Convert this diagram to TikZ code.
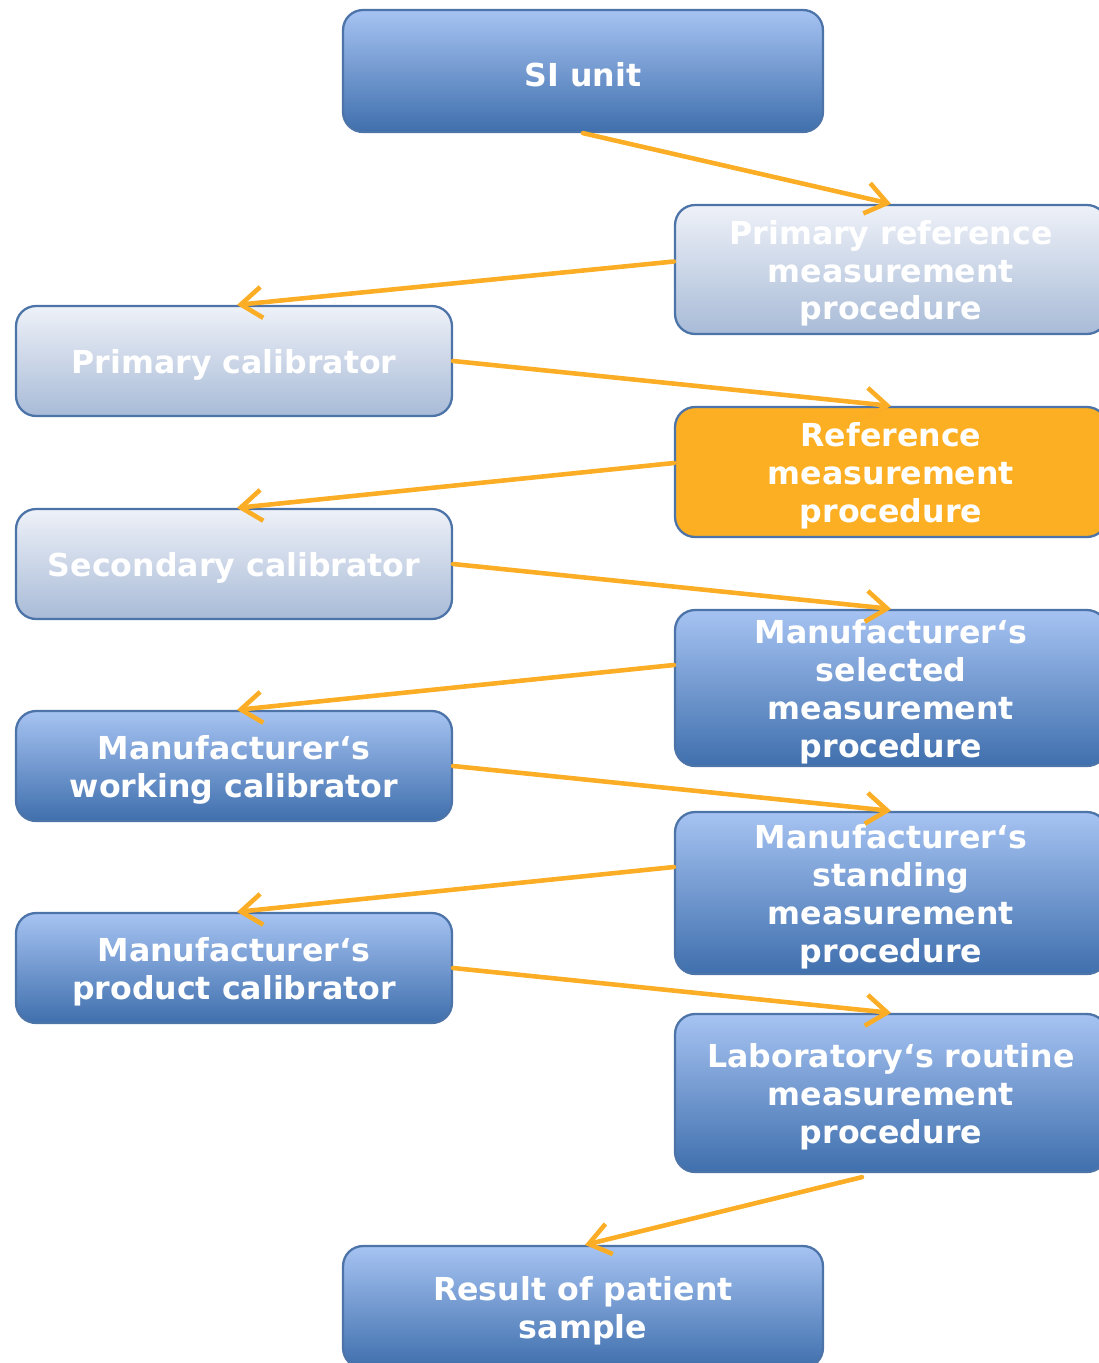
\documentclass[tikz,border=0pt]{standalone}
\usepackage{fontspec}
\setmainfont{DejaVu Sans}
\usetikzlibrary{arrows.meta,calc}
\definecolor{bluetop}{HTML}{A6C3F2}
\definecolor{bluebot}{HTML}{3F6FAD}
\definecolor{lighttop}{HTML}{EEF1F8}
\definecolor{lightbot}{HTML}{A8BBD7}
\definecolor{edgeblue}{HTML}{4C74A8}
\definecolor{orangefill}{HTML}{FDAF23}
\definecolor{arrowor}{HTML}{FAAD25}
\newcommand{\topstrut}{\rule{0pt}{18pt}}
\tikzset{
  boxbase/.style={draw=edgeblue, line width=1.3pt, rounded corners=0.4cm, align=center,
    inner sep=0pt, text=white, font=\fontsize{18}{21.6}\selectfont\bfseries},
  bluebox/.style={boxbase, top color=bluetop, bottom color=bluebot},
  lightbox/.style={boxbase, top color=lighttop, bottom color=lightbot},
  orangebox/.style={boxbase, fill=orangefill},
  rightw/.style={minimum width=8.64cm},
  leftw/.style={minimum width=8.72cm, minimum height=2.2cm},
  conn/.style={draw=arrowor, line width=2.6pt, line cap=round,
    -{Straight Barb[length=0.42cm, width=0.62cm, line width=2.6pt]}}
}
\begin{document}
\begin{tikzpicture}[x=0.02cm, y=-0.02cm]
\useasboundingbox (0,0) rectangle (1099,1363);
\node[bluebox, minimum width=9.6cm, minimum height=2.44cm] (si) at (583,71) {\topstrut SI unit};
\node[lightbox, rightw, minimum height=2.58cm] (pref) at (891,269.5) {\topstrut Primary reference\\measurement\\procedure};
\node[orangebox, rightw, minimum height=2.6cm] (ref) at (891,472) {\topstrut Reference\\measurement\\procedure};
\node[bluebox, rightw, minimum height=3.12cm] (sel) at (891,688) {\topstrut Manufacturer‘s\\selected\\measurement\\procedure};
\node[bluebox, rightw, minimum height=3.24cm] (stand) at (891,893) {\topstrut Manufacturer‘s\\standing\\measurement\\procedure};
\node[bluebox, rightw, minimum height=3.16cm] (lab) at (891,1093) {\topstrut Laboratory‘s routine\\measurement\\procedure};
\node[lightbox, leftw] (pcal) at (234,361) {\topstrut Primary calibrator};
\node[lightbox, leftw] (scal) at (234,564) {\topstrut Secondary calibrator};
\node[bluebox, leftw] (wcal) at (234,766) {\topstrut Manufacturer‘s\\working calibrator};
\node[bluebox, leftw] (prod) at (234,968) {\topstrut Manufacturer‘s\\product calibrator};
\node[bluebox, minimum width=9.6cm, minimum height=2.44cm] (res) at (583,1307) {\topstrut Result of patient\\sample};

\draw[conn] (si.south) -- (pref.north);
\draw[conn] ($(pref.west)+(0,-8)$) -- ($(pcal.north)+(3,0)$);
\draw[conn] (pcal.east) -- (ref.north);
\draw[conn] ($(ref.west)+(0,-9)$) -- ($(scal.north)+(3,0)$);
\draw[conn] (scal.east) -- (sel.north);
\draw[conn] ($(sel.west)+(0,-23)$) -- ($(wcal.north)+(3,0)$);
\draw[conn] (wcal.east) -- (stand.north);
\draw[conn] ($(stand.west)+(0,-26)$) -- ($(prod.north)+(3,0)$);
\draw[conn] (prod.east) -- (lab.north);
\draw[conn] ($(lab.south)+(-29,4)$) -- ($(res.north)+(2,0)$);
\end{tikzpicture}
\end{document}
